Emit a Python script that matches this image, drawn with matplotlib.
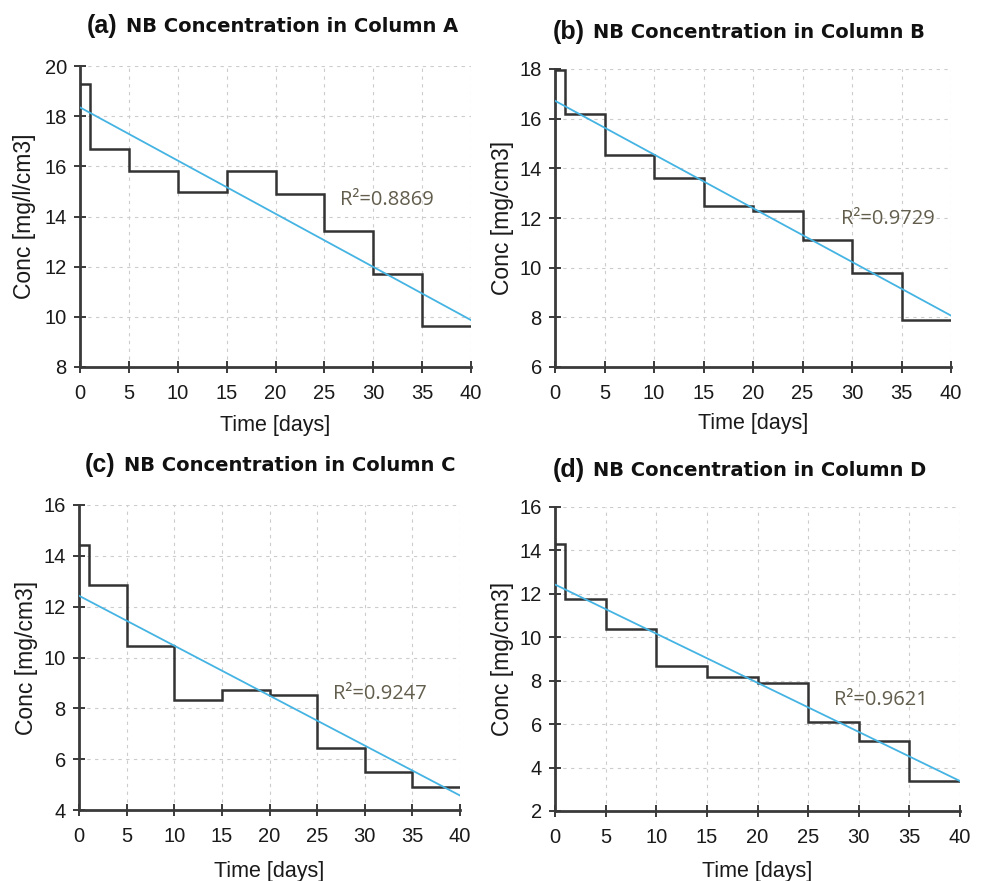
import matplotlib
matplotlib.use("Agg")
import matplotlib.pyplot as plt

# step edges (days) shared by all four columns
days = [0, 1, 5, 10, 15, 20, 25, 30, 35, 40]

conc_a = [19.27, 16.69, 15.83, 14.97, 15.83, 14.91, 13.42, 11.70, 9.62]
conc_b = [17.97, 16.20, 14.55, 13.60, 12.50, 12.30, 11.10, 9.80, 7.90]
conc_c = [14.43, 12.86, 10.45, 8.34, 8.74, 8.51, 6.43, 5.51, 4.90]
conc_d = [14.28, 11.78, 10.37, 8.66, 8.15, 7.89, 6.12, 5.22, 3.38]

# linear trend values at day 0 and day 40
fit_a = [18.35, 9.87]
fit_b = [16.72, 8.07]
fit_c = [12.43, 4.57]
fit_d = [12.43, 3.38]

r2_labels = ["R²=0.8869", "R²=0.9729", "R²=0.9247", "R²=0.9621"]
r2_pos = [(26.6, 14.65), (28.9, 11.96), (26.7, 8.58), (27.6, 7.12)]

letters = ["(a)", "(b)", "(c)", "(d)"]
titles = ["NB Concentration in Column A", "NB Concentration in Column B",
          "NB Concentration in Column C", "NB Concentration in Column D"]
ylabels = ["Conc [mg/l/cm3]", "Conc [mg/cm3]", "Conc [mg/cm3]", "Conc [mg/cm3]"]
ylims = [(8, 20), (6, 18), (4, 16), (2, 16)]
xticks = [0, 5, 10, 15, 20, 25, 30, 35, 40]

W, H = 981, 881
plt.rcParams['font.family'] = ['Liberation Sans', 'DejaVu Sans']

fig = plt.figure(figsize=(W / 100, H / 100), dpi=100)
fig.patch.set_facecolor('white')

def fx(px):
    return px / W

def fy(py):
    return 1 - py / H

# pixel boxes: left, right, top, bottom
boxes = [(80, 471, 66, 367), (555, 951, 69, 367), (79, 460, 505, 810), (555, 960, 507, 811)]
title_pos = [(87, 26), (553, 32), (85, 465), (553, 470)]
ylab_x = [25, 502, 27, 502]
xlab_y = [425, 424, 871, 872]

series = [conc_a, conc_b, conc_c, conc_d]
fits = [fit_a, fit_b, fit_c, fit_d]

for i in range(4):
    l, r, t, b = boxes[i]
    ax = fig.add_axes([fx(l), fy(b), fx(r - l), (b - t) / H])
    ax.stairs(series[i], days, baseline=None, color='#333333', lw=1.8, zorder=3)
    ax.plot([days[0], days[-1]], fits[i], color='#45b4e3', lw=1.3, zorder=4)

    ax.set_xlim(0, 40)
    ax.set_ylim(*ylims[i])
    ax.set_xticks(xticks)
    lo, hi = ylims[i]
    ax.set_yticks(range(lo, hi + 1, 2))
    ax.grid(True, color='#cccccc', ls=(0, (3, 4)), lw=0.8)
    ax.set_axisbelow(True)
    for s in ['top', 'right']:
        ax.spines[s].set_visible(False)
    for s in ['left', 'bottom']:
        ax.spines[s].set_color('#3a3a3a')
        ax.spines[s].set_linewidth(2.0)
    ax.tick_params(direction='inout', length=9, width=1.4, color='#3a3a3a',
                   labelsize=14.5, labelcolor='#1a1a1a')
    ax.tick_params(axis='y', pad=5)
    ax.tick_params(axis='x', pad=8)

    ax.text(r2_pos[i][0], r2_pos[i][1], r2_labels[i], color='#625d4c',
            fontsize=14.5, family=['Open Sans', 'DejaVu Sans'], va='center', ha='left', zorder=5)

    fig.text(fx(ylab_x[i]), fy((t + b) / 2), ylabels[i], rotation=90,
             ha='center', va='center', fontsize=16.5, color='#1a1a1a')
    fig.text(fx((l + r) / 2), fy(xlab_y[i]), "Time [days]",
             ha='center', va='center', fontsize=15.5, color='#1a1a1a')

    tx, ty = title_pos[i]
    lt = fig.text(fx(tx), fy(ty), letters[i], ha='left', va='center',
                  fontsize=18, fontweight='bold', color='#111111')
    ax.annotate(titles[i], xy=(1, 0), xycoords=lt, xytext=(6, 1.5),
                textcoords='offset points', ha='left', va='bottom',
                fontsize=14, fontweight='bold', family=['DejaVu Sans'],
                color='#111111', annotation_clip=False)

fig.savefig('out.png', dpi=100, facecolor='white')
